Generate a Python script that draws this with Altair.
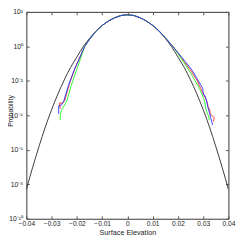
import altair as alt
import pandas as pd

# Reference (Gaussian-like) curve: x and log10(probability)
black_x = [-0.04, -0.0375, -0.035, -0.0325, -0.03, -0.0275, -0.025, -0.0225, -0.02,
           -0.0175, -0.015, -0.0125, -0.01, -0.0075, -0.005, -0.0025, 0.0,
           0.0025, 0.005, 0.0075, 0.01, 0.0125, 0.015, 0.0175, 0.02, 0.0225,
           0.025, 0.0275, 0.03, 0.0325, 0.035, 0.0375, 0.04]
black_e = [-8.30, -7.01, -5.81, -4.68, -3.67, -2.76, -1.95, -1.22, -0.62,
           -0.02, 0.46, 0.88, 1.21, 1.47, 1.66, 1.79, 1.83,
           1.79, 1.66, 1.47, 1.21, 0.88, 0.46, -0.02, -0.62, -1.22,
           -1.95, -2.76, -3.67, -4.68, -5.81, -7.01, -8.30]

center_x = [-0.015, -0.0125, -0.01, -0.0075, -0.005, -0.0025, 0.0, 0.0025, 0.005,
            0.0075, 0.01, 0.0125, 0.015]
center_e = [0.40, 0.87, 1.21, 1.47, 1.66, 1.79, 1.83, 1.79, 1.66, 1.47, 1.22, 0.90, 0.50]

red_x = [-0.0266, -0.0268, -0.0257, -0.0249, -0.0230, -0.0209, -0.0169] + center_x + \
        [0.018, 0.02, 0.0225, 0.0247, 0.0275, 0.029, 0.0314, 0.0320, 0.0326, 0.0328,
         0.0334, 0.0344, 0.0340]
red_e = [-3.62, -3.28, -3.30, -3.17, -2.20, -1.32, 0.0] + center_e + \
        [0.0, -0.39, -0.89, -1.32, -1.95, -2.43, -3.17, -3.50, -3.70, -3.95,
         -4.00, -4.15, -4.37]

green_x = [-0.0266, -0.0266, -0.0261, -0.0240, -0.0222, -0.0200, -0.0169] + center_x + \
          [0.018, 0.02, 0.0225, 0.0241, 0.0264, 0.0285, 0.0300, 0.0305, 0.0312,
           0.0318, 0.0321, 0.0324]
green_e = [-4.28, -4.00, -3.72, -3.17, -2.25, -1.32, 0.0] + center_e + \
          [0.0, -0.43, -0.97, -1.32, -1.90, -2.43, -2.95, -3.17, -3.70,
           -3.95, -4.00, -4.28]

blue_x = [-0.0272, -0.0272, -0.0261, -0.0252, -0.0232, -0.0209, -0.0169] + center_x + \
         [0.018, 0.02, 0.0225, 0.0253, 0.0275, 0.0298, 0.0301, 0.0307, 0.0314,
          0.0318, 0.0326, 0.0331, 0.0337]
blue_e = [-3.92, -3.45, -3.40, -3.17, -2.20, -1.32, 0.0] + center_e + \
         [0.0, -0.36, -0.81, -1.32, -1.86, -2.43, -2.80, -2.85, -3.17,
          -3.50, -3.90, -4.20, -4.56]

x_ticks = [-0.04, -0.03, -0.02, -0.01, 0.0, 0.01, 0.02, 0.03, 0.04]
y_ticks = [1e2, 1e0, 1e-2, 1e-4, 1e-6, 1e-8, 1e-10]

series = [("black", black_x, black_e), ("red", red_x, red_e),
          ("green", green_x, green_e), ("blue", blue_x, blue_e)]
rows = []
for name, xs, es in series:
    for i, (xv, ev) in enumerate(zip(xs, es)):
        rows.append({"s": name, "i": i, "x": xv, "p": 10 ** ev})
df = pd.DataFrame(rows)

colors = {"black": "#222222", "red": "#ff2020", "green": "#20ee20", "blue": "#2030ff"}
FONT = "Liberation Sans"

xscale = alt.Scale(domain=[-0.04, 0.04], nice=False, zero=False)
yscale = alt.Scale(type="log", domain=[1e-10, 1e2], nice=False)

ylab = ("datum.value >= 10 ? '10²' : datum.value >= 0.5 ? '10⁰' : datum.value >= 0.005 ? '10⁻²' : "
        "datum.value >= 5e-5 ? '10⁻⁴' : datum.value >= 5e-7 ? '10⁻⁶' : datum.value >= 5e-9 ? '10⁻⁸' : '10⁻¹⁰'")
xlab = "datum.value == 0 ? '0' : format(datum.value, '.2f')"

tick_common = dict(domain=False, grid=False, tickSize=3, offset=-3, tickColor="#555555",
                   labelFont=FONT, labelFontSize=7, labelColor="#222222", labelOverlap=False,
                   titleFont=FONT, titleFontSize=7.5, titleFontWeight="normal", titleColor="#222222")

x_bottom = alt.Axis(orient="bottom", values=x_ticks, labelExpr=xlab, labelPadding=2.5,
                    labelFlush=False,
                    title="Surface Elevation", titleY=17, titleBaseline="middle",
                    **{**tick_common, "labelFontSize": 6.8})
y_left = alt.Axis(orient="left", values=y_ticks, labelExpr=ylab, labelPadding=4,
                  labelBaseline="middle", labelFlush=False,
                  title="Probability", titleX=-19, titleY=102, titleAngle=270,
                  titleBaseline="middle", **{**tick_common, "titleFontSize": 7})
x_top = alt.Axis(orient="top", values=x_ticks, labels=False, title=None, **tick_common)
y_right = alt.Axis(orient="right", values=y_ticks, labels=False, title=None, **tick_common)

layers = []
for name, _, _ in series:
    d = df[df["s"] == name]
    first = name == "black"
    layers.append(
        alt.Chart(d).mark_line(color=colors[name], strokeWidth=0.9,
                               interpolate="monotone" if first else "linear", clip=True).encode(
            x=alt.X("x:Q", scale=xscale, axis=x_bottom if first else None),
            y=alt.Y("p:Q", scale=yscale, axis=y_left if first else None),
            order="i:Q",
        )
    )

frame = alt.Chart(df[df["s"] == "black"]).mark_line(opacity=0).encode(
    x=alt.X("x:Q", scale=xscale, axis=x_top),
    y=alt.Y("p:Q", scale=yscale, axis=y_right),
    order="i:Q",
)

chart = alt.layer(*layers, frame).resolve_axis(x="independent", y="independent").properties(
    width=209, height=214,
    autosize=alt.AutoSizeParams(type="none"),
    padding={"left": 19, "top": 0, "right": 13, "bottom": 19},
    background="white",
).configure_view(stroke="#333333", strokeWidth=1)

chart.save("out.html", embed_options={"renderer": "svg", "actions": False})
